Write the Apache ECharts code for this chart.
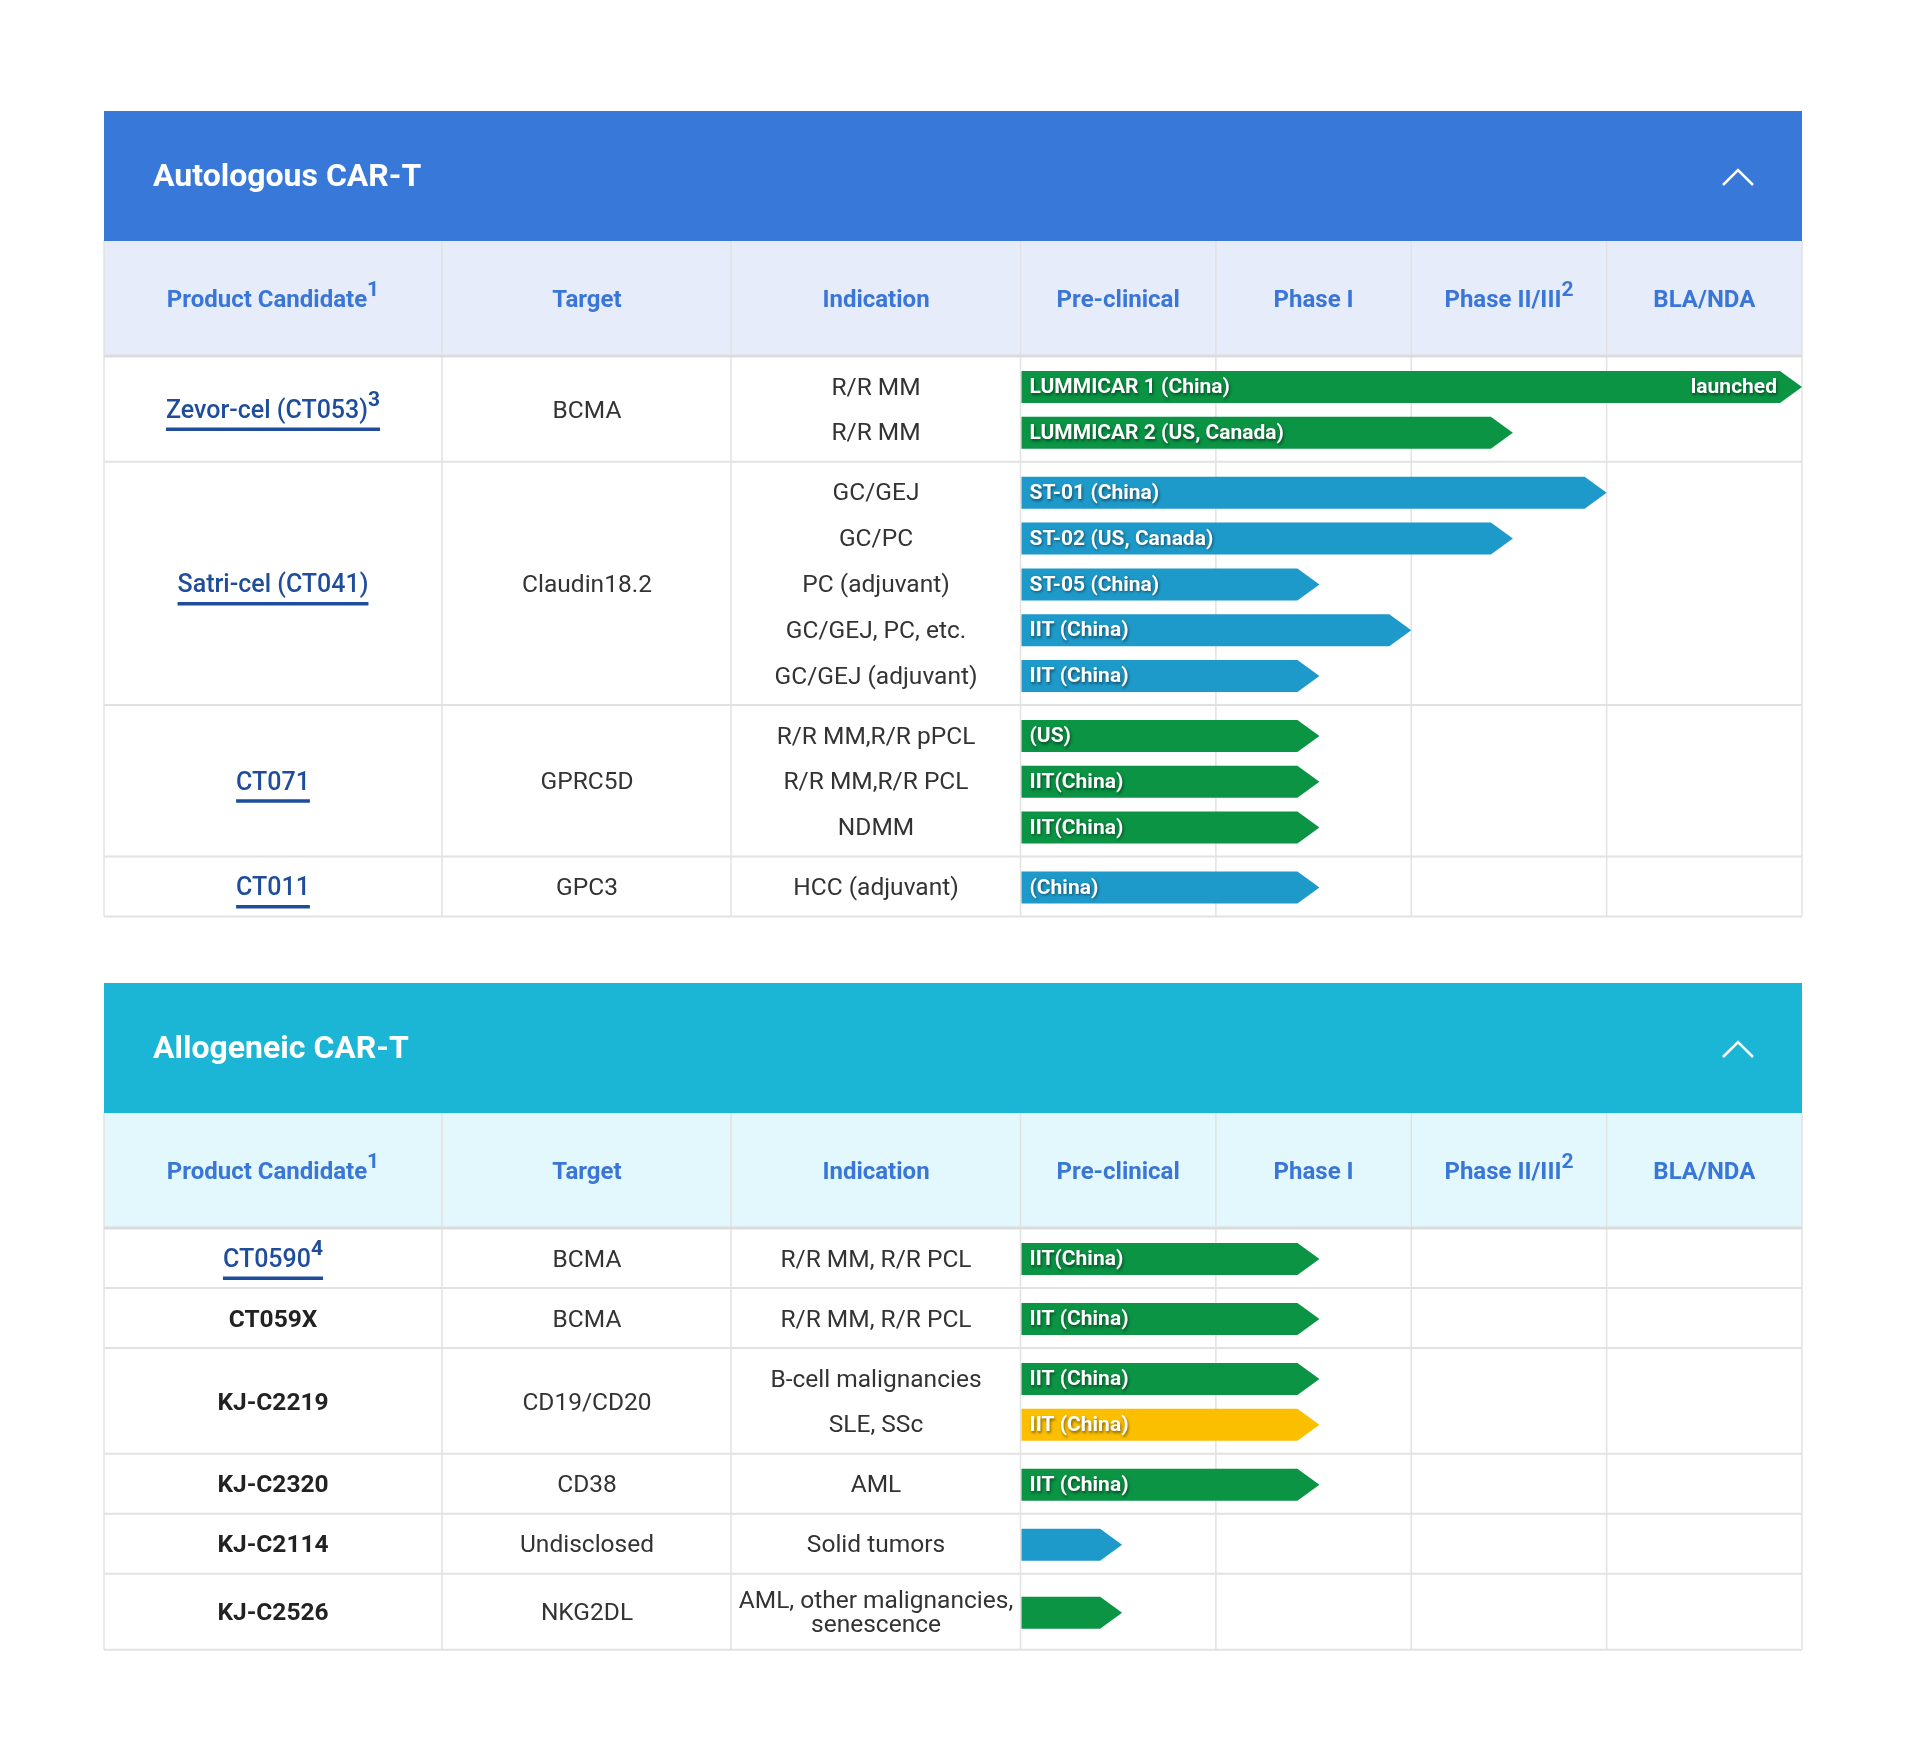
<!DOCTYPE html>
<html>
<head>
<meta charset="utf-8">
<title>CAR-T pipeline</title>
<script src="https://cdn.jsdelivr.net/npm/echarts@6/dist/echarts.min.js"></script>
<style>
  html, body { margin: 0; padding: 0; background: #fff; }
  #main { width: 1920px; height: 1756px; }
</style>
</head>
<body>
<div id="main"></div>
<script>
// ---- data ----
var columns = ["Product Candidate", "Target", "Indication"];
var phases = ["Pre-clinical", "Phase I", "Phase II/III", "BLA/NDA"];
var phaseSups = ["", "", "2", ""];

var autoProducts = ["Zevor-cel (CT053)", "Satri-cel (CT041)", "CT071", "CT011"];
var autoSups = ["3", "", "", ""];
var autoLinks = [true, true, true, true];
var autoTargets = ["BCMA", "Claudin18.2", "GPRC5D", "GPC3"];
var autoIndications = [
  ["R/R MM", "R/R MM"],
  ["GC/GEJ", "GC/PC", "PC (adjuvant)", "GC/GEJ, PC, etc.", "GC/GEJ (adjuvant)"],
  ["R/R MM,R/R pPCL", "R/R MM,R/R PCL", "NDMM"],
  ["HCC (adjuvant)"]
];
var autoLabels = [
  ["LUMMICAR 1 (China)", "LUMMICAR 2 (US, Canada)"],
  ["ST-01 (China)", "ST-02 (US, Canada)", "ST-05 (China)", "IIT (China)", "IIT (China)"],
  ["(US)", "IIT(China)", "IIT(China)"],
  ["(China)"]
];
var autoEndLabels = [["launched", ""], ["", "", "", "", ""], ["", "", ""], [""]];
var autoProgress = [[4, 2.52], [3, 2.52, 1.53, 2, 1.53], [1.53, 1.53, 1.53], [1.53]];
var autoColors = [
  ["green", "green"],
  ["blue", "blue", "blue", "blue", "blue"],
  ["green", "green", "green"],
  ["blue"]
];

var alloProducts = ["CT0590", "CT059X", "KJ-C2219", "KJ-C2320", "KJ-C2114", "KJ-C2526"];
var alloSups = ["4", "", "", "", "", ""];
var alloLinks = [true, false, false, false, false, false];
var alloTargets = ["BCMA", "BCMA", "CD19/CD20", "CD38", "Undisclosed", "NKG2DL"];
var alloIndications = [
  ["R/R MM, R/R PCL"],
  ["R/R MM, R/R PCL"],
  ["B-cell malignancies", "SLE, SSc"],
  ["AML"],
  ["Solid tumors"],
  ["AML, other malignancies,\nsenescence"]
];
var alloLabels = [["IIT(China)"], ["IIT (China)"], ["IIT (China)", "IIT (China)"], ["IIT (China)"], [""], [""]];
var alloEndLabels = [[""], [""], ["", ""], [""], [""], [""]];
var alloProgress = [[1.53], [1.53], [1.53, 1.53], [1.53], [0.52], [0.52]];
var alloColors = [["green"], ["green"], ["green", "yellow"], ["green"], ["blue"], ["green"]];

// ---- layout / style ----
var FONT = "Roboto, 'Noto Sans', sans-serif";
var TABLE_L = 104, TABLE_R = 1802;
var COL_LINES = [104, 442, 731];
var COL_CENTERS = [273, 587, 876];
var PH_L = 1020.5, PH_W = 781.5;
var SLOT = 45.8, PAD = 0.31, EXTRA_LINE = 0.35;
var TITLE_H = 130, HEAD_H = 115;
var BAR_H = 32, ARROW = 22;
var TXT_DY = 2.5;
var barColors = { green: "#0a9444", blue: "#1e9aca", yellow: "#fcbf00" };
var LINE = "#e2e2e2";
var shadow = { textShadowColor: "rgba(0,0,0,0.5)", textShadowBlur: 3, textShadowOffsetX: 1, textShadowOffsetY: 1.5 };

var myChart = echarts.init(document.getElementById("main"));
var measureCtx = document.createElement("canvas").getContext("2d");
function textWidth(txt, font) {
  measureCtx.font = font;
  return measureCtx.measureText(txt).width;
}

function layoutRows(indications) {
  var cursor = 0, groups = [], rows = [];
  indications.forEach(function (list, g) {
    var start = cursor;
    cursor += PAD / 2;
    list.forEach(function (txt, i) {
      var h = 1 + (txt.split("\n").length - 1) * EXTRA_LINE;
      rows.push([0, cursor + h / 2, g, i]);
      cursor += h;
    });
    cursor += PAD / 2;
    groups.push([start, cursor, g]);
  });
  return { groups: groups, rows: rows, total: cursor };
}

var grids = [], xAxes = [], yAxes = [], seriesList = [], graphics = [];

function buildTable(idx, top, title, titleColor, headColor, t) {
  var lay = layoutRows(t.indications);
  var bodyTop = top + TITLE_H + HEAD_H;
  var bodyH = lay.total * SLOT;
  var bodyBottom = bodyTop + bodyH;

  grids.push({ left: PH_L, top: bodyTop, width: PH_W, height: bodyH });
  xAxes.push({ type: "value", gridIndex: idx, min: 0, max: 4, show: false });
  yAxes.push({ type: "value", gridIndex: idx, min: 0, max: lay.total, inverse: true, show: false });

  lay.rows.forEach(function (r) {
    r[0] = t.progress[r[2]][r[3]];
  });

  // title bar
  graphics.push({
    type: "rect", shape: { x: TABLE_L, y: top, width: TABLE_R - TABLE_L, height: TITLE_H },
    style: { fill: titleColor }
  });
  graphics.push({
    type: "text", x: 153, y: top + TITLE_H / 2 + 2,
    style: { text: title, fill: "#fff", font: "bold 32px " + FONT, verticalAlign: "middle" }
  });
  graphics.push({
    type: "polyline",
    shape: { points: [[1723, top + 74], [1738, top + 59], [1753, top + 74]] },
    style: { stroke: "#fff", lineWidth: 2.5, fill: null }
  });
  // column header
  var headTop = top + TITLE_H;
  graphics.push({
    type: "rect", shape: { x: TABLE_L, y: headTop, width: TABLE_R - TABLE_L, height: HEAD_H },
    style: { fill: headColor }
  });
  var headTexts = columns.map(function (c, i) {
    return { text: c, sup: i === 0 ? "1" : "", x: COL_CENTERS[i] };
  }).concat(phases.map(function (p, i) {
    return { text: p, sup: phaseSups[i], x: PH_L + PH_W * (i + 0.5) / 4 };
  }));
  headTexts.forEach(function (h) {
    graphics.push({
      type: "text", x: h.x, y: headTop + HEAD_H / 2 + 2,
      style: {
        text: "{a|" + h.text + "}" + (h.sup ? "{s|" + h.sup + "}" : ""),
        align: "center", verticalAlign: "middle",
        rich: {
          a: { fill: "#3a76d8", font: "bold 24px " + FONT, lineHeight: 40 },
          s: { fill: "#3a76d8", font: "bold 21px " + FONT, lineHeight: 24, verticalAlign: "top" }
        }
      }
    });
  });
  // vertical lines
  var vx = COL_LINES.concat([0, 1, 2, 3, 4].map(function (k) { return PH_L + PH_W * k / 4; }));
  vx.forEach(function (x) {
    graphics.push({
      type: "line", shape: { x1: x, y1: headTop, x2: x, y2: bodyBottom },
      style: { stroke: LINE, lineWidth: 1.5 }
    });
  });
  graphics.push({
    type: "line", shape: { x1: TABLE_L, y1: bodyTop, x2: TABLE_R, y2: bodyTop },
    style: { stroke: "#dcdcdc", lineWidth: 3 }
  });

  // bars + indication text
  seriesList.push({
    type: "custom",
    xAxisIndex: idx, yAxisIndex: idx,
    silent: true, clip: false,
    encode: { x: 0, y: 1 },
    data: lay.rows,
    renderItem: function (params, api) {
      var v = api.value(0), c = api.value(1), g = api.value(2), i = api.value(3);
      var p0 = api.coord([0, c]), p1 = api.coord([v, c]);
      var x0 = p0[0] + 1, y = p0[1] + 1, tip = p1[0], body = tip - ARROW, hh = BAR_H / 2;
      var color = barColors[t.colors[g][i]];
      var ind = t.indications[g][i];
      var children = [
        {
          type: "polygon",
          shape: { points: [[x0, y - hh], [body, y - hh], [tip, y], [body, y + hh], [x0, y + hh]] },
          style: { fill: color }
        },
        {
          type: "text", x: COL_CENTERS[2], y: y + TXT_DY - 1,
          style: {
            text: ind, fill: "#333", font: "24.5px " + FONT, align: "center",
            verticalAlign: "middle", lineHeight: 24
          }
        }
      ];
      if (t.labels[g][i]) {
        children.push({
          type: "text", x: x0 + 8, y: y + 1,
          style: Object.assign({
            text: t.labels[g][i], fill: "#fff", font: "bold 21px " + FONT, verticalAlign: "middle"
          }, shadow)
        });
      }
      if (t.endLabels[g][i]) {
        children.push({
          type: "text", x: body - 3, y: y + 1,
          style: Object.assign({
            text: t.endLabels[g][i], fill: "#fff", font: "bold 21px " + FONT,
            align: "right", verticalAlign: "middle"
          }, shadow)
        });
      }
      return { type: "group", children: children };
    }
  });

  // product / target cells + row separators
  seriesList.push({
    type: "custom",
    xAxisIndex: idx, yAxisIndex: idx,
    silent: true, clip: false,
    encode: { y: [0, 1] },
    data: lay.groups,
    renderItem: function (params, api) {
      var s = api.value(0), e = api.value(1), g = api.value(2);
      var yT = api.coord([0, s])[1], yB = api.coord([0, e])[1];
      var yc = (yT + yB) / 2 + TXT_DY;
      var name = t.products[g], sup = t.sups[g];
      var children = [
        {
          type: "line", shape: { x1: TABLE_L, y1: yB, x2: TABLE_R, y2: yB },
          style: { stroke: LINE, lineWidth: 2 }
        },
        {
          type: "text", x: COL_CENTERS[1], y: yc,
          style: { text: t.targets[g], fill: "#333", font: "24.5px " + FONT, align: "center", verticalAlign: "middle" }
        }
      ];
      if (t.links[g]) {
        var w = textWidth(name, "500 25px " + FONT) + (sup ? textWidth(sup, "bold 21px " + FONT) : 0);
        children.push({
          type: "text", x: COL_CENTERS[0], y: yc,
          style: {
            text: "{a|" + name + "}" + (sup ? "{s|" + sup + "}" : ""),
            align: "center", verticalAlign: "middle",
            rich: {
              a: { fill: "#1f4d9c", font: "500 25px " + FONT, lineHeight: 42 },
              s: { fill: "#1f4d9c", font: "bold 21px " + FONT, lineHeight: 24, verticalAlign: "top" }
            }
          }
        });
        children.push({
          type: "rect", shape: { x: COL_CENTERS[0] - w / 2, y: yc + 16, width: w, height: 3.5 },
          style: { fill: "#1f4d9c" }
        });
      } else {
        children.push({
          type: "text", x: COL_CENTERS[0], y: yc,
          style: { text: name, fill: "#222", font: "bold 24.5px " + FONT, align: "center", verticalAlign: "middle" }
        });
      }
      return { type: "group", children: children };
    }
  });
}

buildTable(0, 111, "Autologous CAR-T", "#3878d8", "#e6ecfa", {
  products: autoProducts, sups: autoSups, links: autoLinks, targets: autoTargets,
  indications: autoIndications, labels: autoLabels, endLabels: autoEndLabels,
  progress: autoProgress, colors: autoColors
});
buildTable(1, 983, "Allogeneic CAR-T", "#1bb6d6", "#e2f8fc", {
  products: alloProducts, sups: alloSups, links: alloLinks, targets: alloTargets,
  indications: alloIndications, labels: alloLabels, endLabels: alloEndLabels,
  progress: alloProgress, colors: alloColors
});

var option = {
  backgroundColor: "#fff",
  animation: false,
  grid: grids,
  xAxis: xAxes,
  yAxis: yAxes,
  graphic: graphics,
  series: seriesList
};
myChart.setOption(option);
</script>
</body>
</html>
